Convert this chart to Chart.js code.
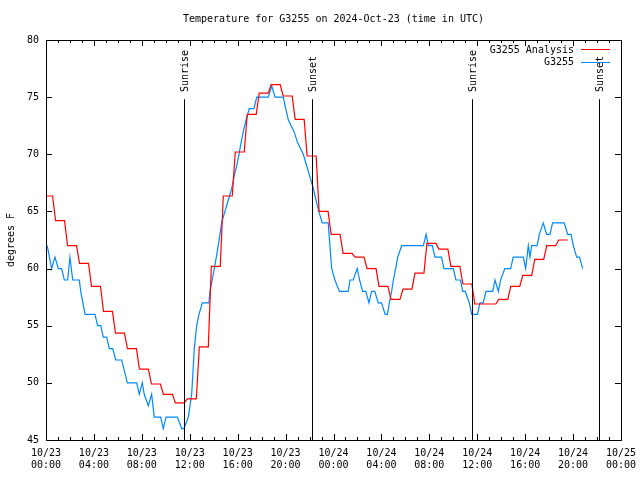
<!DOCTYPE html>
<html>
<head>
<meta charset="utf-8">
<title>G3255 temperature</title>
<script src="https://cdn.jsdelivr.net/npm/chart.js@4.4.1/dist/chart.umd.min.js"></script>
<style>
  body { margin: 0; background: #fff; }
  #chart { display: block; }
</style>
</head>
<body>
<canvas id="chart" width="640" height="480"></canvas>
<script>
'use strict'

// ************* Data ****************
let titleText = 'Temperature for G3255 on 2024-Oct-23 (time in UTC)';
let yAxisTitle = 'degrees F';
let seriesNames = ['G3255 Analysis', 'G3255'];

let xTickDates = ['10/23', '10/23', '10/23', '10/23', '10/23', '10/23', '10/24', '10/24', '10/24', '10/24', '10/24', '10/24', '10/25'];
let xTickTimes = ['00:00', '04:00', '08:00', '12:00', '16:00', '20:00', '00:00', '04:00', '08:00', '12:00', '16:00', '20:00', '00:00'];
let yTicks = [45, 50, 55, 60, 65, 70, 75, 80];

// analysis, one value per hour starting 10/23 00:00
let analysisTemps = [66.35, 64.2, 62.0, 60.45, 58.45, 56.25, 54.35, 53.0, 51.2, 49.9,
  49.0, 48.25, 48.6, 53.15, 60.2, 66.35, 70.2, 73.5, 75.35, 76.1,
  75.1, 73.05, 69.85, 65.0, 63.0, 61.33, 61.0, 60.0, 58.45, 57.3,
  58.2, 59.6, 62.2, 61.7, 60.2, 58.65, 56.9, 56.9, 57.3, 58.45,
  59.4, 60.8, 62.0, 62.5];

// station obs: hours since 10/23 00:00 and deg F
let stationHours = [0.1, 0.47, 0.75, 1.03, 1.3, 1.53, 1.81, 2.0, 2.23, 2.78,
  2.9, 3.26, 4.09, 4.31, 4.57, 4.78, 5.06, 5.29, 5.57, 5.82,
  6.32, 6.79, 7.57, 7.79, 8.04, 8.2, 8.54, 8.82, 9.04, 9.57,
  9.79, 10.02, 10.96, 11.33, 11.52, 11.88, 12.02, 12.16, 12.38, 12.58,
  12.77, 13.05, 13.6, 13.69, 14.05, 14.38, 14.52, 14.66, 14.94, 15.22,
  15.5, 15.69, 15.92, 16.11, 16.28, 16.47, 16.7, 16.97, 17.36, 17.59,
  18.56, 18.84, 19.12, 19.81, 20.01, 20.23, 20.7, 21.01, 21.48, 21.76,
  22.04, 22.32, 22.54, 22.77, 23.06, 23.56, 23.7, 23.85, 24.12, 24.49,
  25.23, 25.38, 25.65, 25.98, 26.18, 26.43, 26.7, 26.96, 27.18, 27.45,
  27.73, 28.01, 28.31, 28.5, 28.66, 28.85, 29.0, 29.19, 29.36, 29.69,
  31.5, 31.73, 31.92, 32.25, 32.47, 33.02, 33.22, 34.0, 34.22, 34.6,
  34.78, 35.0, 35.34, 35.53, 36.02, 36.23, 36.5, 36.73, 37.29, 37.48,
  37.76, 37.95, 38.3, 38.79, 39.0, 39.84, 40.04, 40.26, 40.4, 40.54,
  41.0, 41.18, 41.51, 41.79, 42.07, 42.29, 43.26, 43.55, 43.83, 44.02,
  44.3, 44.53, 44.8];
let stationTemps = [62, 60, 61, 60, 60, 59, 59, 61, 59, 59,
  58, 56, 56, 55, 55, 54, 54, 53, 53, 52,
  52, 50, 50, 49, 50, 49, 48, 49, 47, 47,
  46, 47, 47, 46, 46, 47, 48, 49, 53, 55,
  56, 57, 57, 58, 60, 62, 63, 64, 65, 66,
  67, 68, 69, 70, 71, 72, 73, 74, 74, 75,
  75, 76, 75, 75, 74, 73, 72, 71, 70, 69,
  68, 67, 66, 65, 64, 64, 62, 60, 59, 58,
  58, 59, 59, 60, 59, 58, 58, 57, 58, 58,
  57, 57, 56, 56, 57, 58, 59, 60, 61, 62,
  62, 63, 62, 62, 61, 61, 60, 60, 59, 59,
  58, 58, 57, 56, 56, 57, 57, 58, 58, 59,
  58, 59, 60, 60, 61, 61, 60, 62, 61, 62,
  62, 63, 64, 63, 63, 64, 64, 63, 63, 62,
  61, 61, 60];

let sunLabels = ['Sunrise', 'Sunset', 'Sunrise', 'Sunset'];
let sunHours = [11.55, 22.18, 35.55, 46.15];

let redColor = '#ff0000';
let blueColor = '#0088ff';
let fontFamily = "'DejaVu Sans Mono', 'Liberation Mono', monospace";


// ************ Helpers **************
// each hourly analysis value is held as a flat step
function analysisPoints() {
  let pts = [];
  for (let k = 0; k < analysisTemps.length; k++) {
    pts.push({ x: Math.max(0, k - 0.2), y: analysisTemps[k] });
    pts.push({ x: k + 0.55, y: analysisTemps[k] });
  }
  return pts;
}

function stationPoints() {
  let pts = [];
  for (let i = 0; i < stationHours.length; i++) {
    pts.push({ x: stationHours[i], y: stationTemps[i] });
  }
  return pts;
}


// ************ Plugin: frame, ticks, sun lines, legend, titles ************
let decorations = {
  id: 'decorations',
  afterDatasetsDraw(chart) {
    let ctx = chart.ctx;
    let a = chart.chartArea;
    let xs = chart.scales.x;
    let ys = chart.scales.y;
    let h = a.bottom - a.top;

    ctx.save();
    ctx.strokeStyle = '#000';
    ctx.fillStyle = '#000';
    ctx.lineWidth = 1;
    ctx.font = '10px ' + fontFamily;

    // sunrise / sunset markers
    for (let i = 0; i < sunHours.length; i++) {
      let px = Math.round(xs.getPixelForValue(sunHours[i])) + 0.5;
      ctx.beginPath();
      ctx.moveTo(px, a.top + h * 0.148);
      ctx.lineTo(px, a.bottom);
      ctx.stroke();
      ctx.save();
      ctx.translate(px + 1, a.top + h * 0.13);
      ctx.rotate(-Math.PI / 2);
      ctx.textAlign = 'left';
      ctx.textBaseline = 'middle';
      ctx.fillText(sunLabels[i], 0, 0);
      ctx.restore();
    }

    // border
    ctx.strokeRect(a.left + 0.5, a.top + 0.5, a.right - a.left, a.bottom - a.top);

    // inward ticks, hourly on x
    ctx.beginPath();
    for (let hr = 0; hr <= 48; hr++) {
      let px = Math.round(xs.getPixelForValue(hr)) + 0.5;
      let len = hr % 4 === 0 ? 6 : 3;
      ctx.moveTo(px, a.bottom);
      ctx.lineTo(px, a.bottom - len);
      ctx.moveTo(px, a.top);
      ctx.lineTo(px, a.top + len);
    }
    for (let i = 0; i < yTicks.length; i++) {
      let py = Math.round(ys.getPixelForValue(yTicks[i])) + 0.5;
      ctx.moveTo(a.left, py);
      ctx.lineTo(a.left + 6, py);
      ctx.moveTo(a.right, py);
      ctx.lineTo(a.right - 6, py);
    }
    ctx.stroke();

    // legend, top right inside plot
    let colors = [redColor, blueColor];
    for (let i = 0; i < seriesNames.length; i++) {
      let ly = a.top + 10 + i * 12.5;
      ctx.textAlign = 'right';
      ctx.textBaseline = 'middle';
      ctx.fillStyle = '#000';
      ctx.fillText(seriesNames[i], a.right - 47, ly);
      ctx.strokeStyle = colors[i];
      ctx.beginPath();
      ctx.moveTo(a.right - 40, Math.round(ly) - 0.5);
      ctx.lineTo(a.right - 11, Math.round(ly) - 0.5);
      ctx.stroke();
    }

    // title and y axis title
    ctx.fillStyle = '#000';
    ctx.textAlign = 'center';
    ctx.textBaseline = 'middle';
    ctx.fillText(titleText, (a.left + a.right) / 2, 19.5);
    ctx.save();
    ctx.translate(11, (a.top + a.bottom) / 2);
    ctx.rotate(-Math.PI / 2);
    ctx.fillText(yAxisTitle, 0, 0);
    ctx.restore();

    ctx.restore();
  }
};


// ************ Chart **************
Chart.defaults.font.family = fontFamily;
Chart.defaults.font.size = 10;
Chart.defaults.color = '#000';

let chartEl = document.getElementById('chart');

let myChart = new Chart(chartEl, {
  type: 'line',
  data: {
    datasets: [{
      label: seriesNames[0],
      data: analysisPoints(),
      borderColor: redColor,
      borderWidth: 1.2,
      pointRadius: 0,
      tension: 0,
      fill: false
    }, {
      label: seriesNames[1],
      data: stationPoints(),
      borderColor: blueColor,
      borderWidth: 1.2,
      pointRadius: 0,
      tension: 0,
      fill: false
    }]
  },
  options: {
    responsive: false,
    animation: false,
    events: [],
    layout: {
      padding: { top: 40, right: 19, left: 0, bottom: 0 }
    },
    plugins: {
      legend: { display: false },
      title: { display: false },
      tooltip: { enabled: false }
    },
    scales: {
      x: {
        type: 'linear',
        min: 0,
        max: 48,
        grid: { display: false, drawTicks: false },
        border: { display: false },
        ticks: {
          stepSize: 4,
          autoSkip: false,
          maxRotation: 0,
          padding: 7,
          font: { size: 10, lineHeight: 1.2 },
          callback: function (value) {
            let i = Math.round(value / 4);
            return [xTickDates[i], xTickTimes[i]];
          }
        },
        afterFit: function (scale) {
          scale.height = 40;
          scale.paddingLeft = 0;
          scale.paddingRight = 0;
        }
      },
      y: {
        min: 45,
        max: 80,
        grid: { display: false, drawTicks: false },
        border: { display: false },
        ticks: {
          stepSize: 5,
          padding: 7,
          font: { size: 10 }
        },
        afterFit: function (scale) {
          scale.width = 46;
          scale.paddingTop = 0;
          scale.paddingBottom = 0;
        }
      }
    }
  },
  plugins: [decorations]
});
</script>
</body>
</html>
